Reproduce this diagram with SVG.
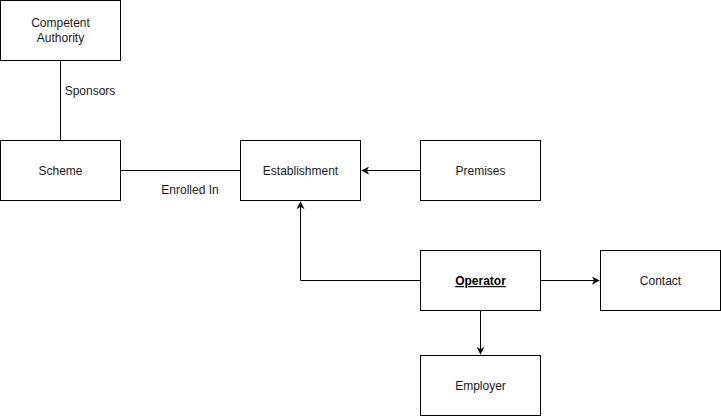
<svg xmlns="http://www.w3.org/2000/svg" width="721" height="416" viewBox="0 0 721 416">
  <style>
    .box { fill: #ffffff; stroke: #000000; stroke-width: 1; }
    .lbl { font-family: "Liberation Sans", Arial, sans-serif; font-size: 12px; fill: #1a1a1a; text-anchor: middle; }
    .edge { fill: none; stroke: #000000; stroke-width: 1; }
    .arr { marker-end: url(#head); }
  </style>
  <defs>
    <marker id="head" viewBox="0 0 10 10" refX="9" refY="5" markerWidth="8" markerHeight="8" markerUnits="userSpaceOnUse" orient="auto">
      <path d="M0,0 L10,5 L0,10 L3,5 Z" fill="#000000"/>
    </marker>
  </defs>
  <rect width="721" height="416" fill="#ffffff"/>

  <g id="connectors">
    <path class="edge" d="M60.5,60.5 V140.5"/>
    <text class="lbl" x="90" y="95">Sponsors</text>
    <path class="edge" d="M120.5,170.5 H240.5"/>
    <text class="lbl" x="190" y="194">Enrolled In</text>
    <path class="edge arr" d="M420.5,170.5 H362"/>
    <path class="edge arr" d="M420.5,280.5 H300.5 V202"/>
    <path class="edge arr" d="M540.5,280.5 H599"/>
    <path class="edge arr" d="M480.5,310.5 V354"/>
  </g>

  <g id="competent-authority">
    <rect class="box" x="0.5" y="0.5" width="120" height="60"/>
    <text class="lbl" x="60.5" y="27">Competent</text>
    <text class="lbl" x="60.5" y="42">Authority</text>
  </g>
  <g id="scheme">
    <rect class="box" x="0.5" y="140.5" width="120" height="60"/>
    <text class="lbl" x="60.5" y="175">Scheme</text>
  </g>
  <g id="establishment">
    <rect class="box" x="240.5" y="140.5" width="120" height="60"/>
    <text class="lbl" x="300.5" y="175">Establishment</text>
  </g>
  <g id="premises">
    <rect class="box" x="420.5" y="140.5" width="120" height="60"/>
    <text class="lbl" x="480.5" y="175">Premises</text>
  </g>
  <g id="operator">
    <rect class="box" x="420.5" y="250.5" width="120" height="60"/>
    <text class="lbl" x="480.5" y="285" font-weight="bold" text-decoration="underline" style="fill:#000000">Operator</text>
  </g>
  <g id="contact">
    <rect class="box" x="600.5" y="250.5" width="120" height="60"/>
    <text class="lbl" x="660.5" y="285">Contact</text>
  </g>
  <g id="employer">
    <rect class="box" x="420.5" y="355.5" width="120" height="60"/>
    <text class="lbl" x="480.5" y="390">Employer</text>
  </g>
</svg>
